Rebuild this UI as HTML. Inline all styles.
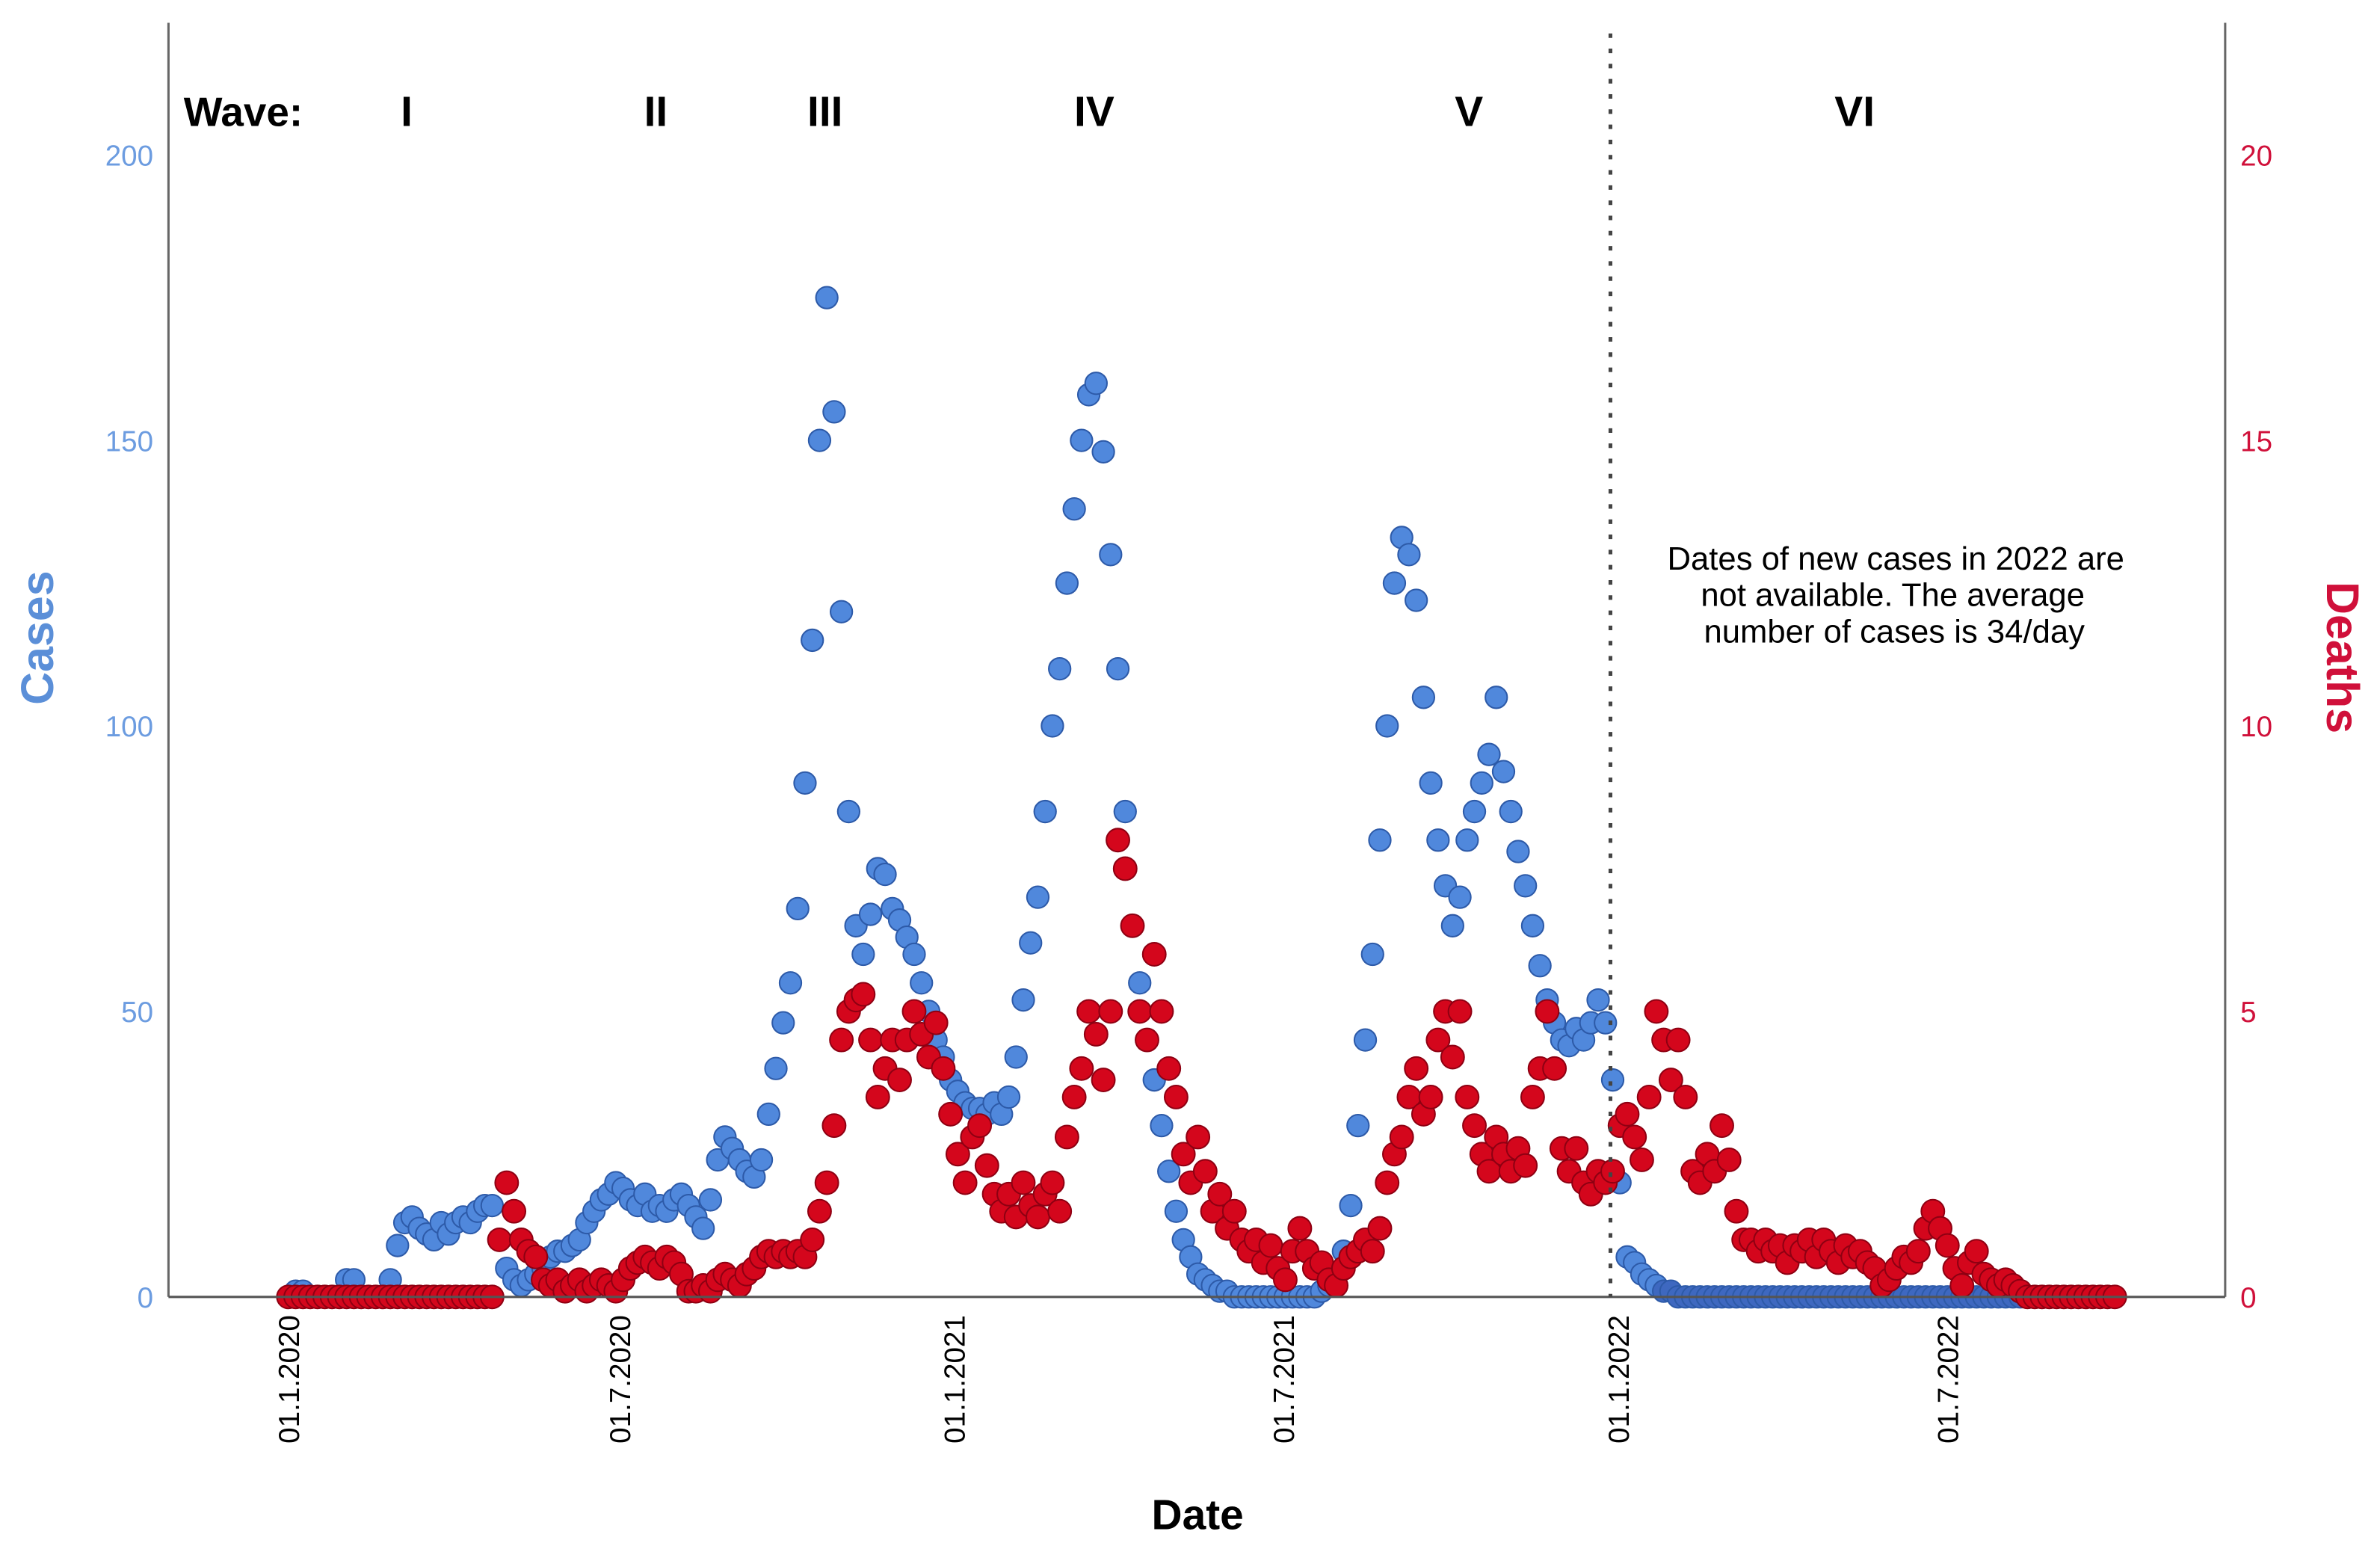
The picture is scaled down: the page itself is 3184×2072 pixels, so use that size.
<!DOCTYPE html>
<html><head><meta charset="utf-8"><style>
html,body{margin:0;padding:0;background:#fff;}
svg{display:block;}
text{font-family:"Liberation Sans",sans-serif;}
</style></head><body>
<svg id="chart" width="3184" height="2072" viewBox="0 0 1568 1020" preserveAspectRatio="none" xmlns="http://www.w3.org/2000/svg">
<rect width="1568" height="1020" fill="#fff"/>
<g id="marks"></g>
<line x1="111" y1="15" x2="111" y2="854" stroke="#666" stroke-width="1.5"/>
<line x1="1466" y1="15" x2="1466" y2="854" stroke="#666" stroke-width="1.5"/>
<line x1="111" y1="854" x2="1466" y2="854" stroke="#555" stroke-width="1.5"/>
<line x1="1061" y1="22" x2="1061" y2="854" stroke="#444" stroke-width="2.5" stroke-dasharray="3,7"/>
<g id="ticks"></g>
<text x="121" y="83" font-size="27" font-weight="bold" fill="#000">Wave:</text>
<g id="waves" font-size="28" font-weight="bold" text-anchor="middle" fill="#000"></g>
<g font-size="21.5" text-anchor="middle" fill="#000">
<text x="1249" y="375">Dates of new cases in 2022 are</text>
<text x="1247" y="399">not available. The average</text>
<text x="1248" y="423">number of cases is 34/day</text>
</g>
<text transform="translate(35,420) rotate(-90)" text-anchor="middle" font-size="30" font-weight="bold" fill="#5b8fd8">Cases</text>
<text transform="translate(1533,433) rotate(90)" text-anchor="middle" font-size="30" font-weight="bold" fill="#d0103a">Deaths</text>
<text x="789" y="1007" text-anchor="middle" font-size="28" font-weight="bold" fill="#000">Date</text>
</svg>
<script>
const xTickLabels = ["01.1.2020","01.7.2020","01.1.2021","01.7.2021","01.1.2022","01.7.2022"];
const xTickDays = [0,182,366,547,731,912];
const casesTicks = [0,50,100,150,200];
const deathsTicks = [0,5,10,15,20];
const waveNames = ["I","II","III","IV","V","VI"];
const waveDays = [65,202,295,443,649,861];
const stepDays = 4;
const cases = [0,1,1,0,0,0,0,0,
3,3,0,
0,0,0,3,
9,13,14,12,11,10,13,11,13,14,13,15,16,16,
10,5,3,2,3,4,5,7,8,8,9,10,13,15,17,18,20,19,17,16,18,15,16,15,17,18,16,14,12,17,
24,28,26,24,22,21,24,32,40,48,55,68,90,115,150,175,155,120,85,65,
60,67,75,74,68,66,63,60,55,50,45,42,38,36,34,33,33,32,34,32,35,42,52,62,
70,85,100,110,125,138,150,158,160,148,130,110,85,65,55,45,38,30,22,15,10,7,4,3,2,1,
1,0,0,0,0,0,0,0,0,0,0,0,0,
1,2,4,8,16,30,45,60,80,100,125,133,130,122,105,90,80,72,65,70,80,85,90,95,105,92,85,78,72,65,58,52,48,45,44,47,45,48,52,48,38,20,7,6,4,3,2,1,1,
0,0,0,0,0,0,0,0,0,0,0,0,0,0,0,0,0,0,0,0,0,0,0,0,0,0,0,0,0,0,0,0,0,0,0,0,0,0,0,0,0,0,0,0,0,0,0,0,0,0,0,0,0,0,0,0,0,0,0,0,0];
const deaths = [0,0,0,0,0,0,0,0,0,0,0,0,0,0,0,0,0,0,0,0,0,0,0,0,0,0,0,0,0,
1,2,1.5,1,0.8,0.7,0.3,0.2,0.3,0.1,0.2,0.3,0.1,0.2,0.3,0.2,0.1,0.3,0.5,0.6,0.7,0.6,0.5,0.7,0.6,0.4,0.1,0.1,0.2,0.1,
0.3,0.4,0.3,0.2,0.4,0.5,0.7,0.8,0.7,0.8,0.7,0.8,0.7,1.0,1.5,2.0,3.0,4.5,5.0,5.2,
5.3,4.5,3.5,4.0,4.5,3.8,4.5,5.0,4.6,4.2,4.8,4.0,3.2,2.5,2.0,2.8,3.0,2.3,1.8,1.5,1.8,1.4,2.0,1.6,
1.4,1.8,2.0,1.5,2.8,3.5,4.0,5.0,4.6,3.8,5.0,8.0,7.5,6.5,5.0,4.5,6.0,5.0,4.0,3.5,2.5,2.0,2.8,2.2,1.5,1.8,
1.2,1.5,1.0,0.8,1.0,0.6,0.9,0.5,0.3,0.8,1.2,0.8,0.5,
0.6,0.3,0.2,0.5,0.7,0.8,1.0,0.8,1.2,2.0,2.5,2.8,3.5,4.0,3.2,3.5,4.5,5.0,4.2,5.0,3.5,3.0,2.5,2.2,2.8,2.5,2.2,2.6,2.3,3.5,4.0,5.0,4.0,2.6,2.2,2.6,2.0,1.8,2.2,2.0,2.2,3.0,3.2,2.8,2.4,3.5,5.0,4.5,3.8,
4.5,3.5,2.2,2.0,2.5,2.2,3.0,2.4,1.5,1.0,1.0,0.8,1.0,0.8,0.9,0.6,0.9,0.8,1.0,0.7,1.0,0.8,0.6,0.9,0.7,0.8,0.6,0.5,0.2,0.3,0.5,0.7,0.6,0.8,1.2,1.5,1.2,0.9,0.5,0.2,0.6,0.8,0.4,0.3,0.2,0.3,0.2,0.1,
0,0,0,0,0,0,0,0,0,0,0,0,0];

const NS = "http://www.w3.org/2000/svg";
const xOf = d => 190 + d * (1093 / 912);
const yCases = v => 854 - v * (752 / 200);
const yDeaths = v => 854 - v * (752 / 20);
const marks = document.getElementById('marks');
const ticks = document.getElementById('ticks');
const waves = document.getElementById('waves');

function dot(cx, cy, r, fill, stroke) {
  const c = document.createElementNS(NS, 'circle');
  c.setAttribute('cx', cx); c.setAttribute('cy', cy); c.setAttribute('r', r);
  c.setAttribute('fill', fill); c.setAttribute('stroke', stroke); c.setAttribute('stroke-width', 1);
  return c;
}
cases.forEach((v, i) => {
  const c = dot(xOf(i * stepDays), yCases(v), 7.2, v <= 1 && i > 180 ? '#3e68c0' : '#5088dc', '#2d5aa8');
  
  
  marks.appendChild(c);
});
deaths.forEach((v, i) => {
  const c = dot(xOf(i * stepDays), yDeaths(v), 7.6, '#d4061c', '#8e0012');
  
  
  marks.appendChild(c);
});
function txt(parent, x, y, s, attrs) {
  const t = document.createElementNS(NS, 'text');
  t.setAttribute('x', x); t.setAttribute('y', y); t.textContent = s;
  for (const k in attrs) t.setAttribute(k, attrs[k]);
  parent.appendChild(t); return t;
}
casesTicks.forEach(v => {
  const t = txt(ticks, 101, yCases(v) + 7, String(v), {'text-anchor': 'end', 'font-size': '19', 'fill': '#6c9ce0'});
  
  
});
deathsTicks.forEach(v => {
  const t = txt(ticks, 1476, yDeaths(v) + 7, String(v), {'text-anchor': 'start', 'font-size': '19', 'fill': '#d0103a'});
  
  
});
xTickLabels.forEach((s, i) => {
  const x = xOf(xTickDays[i]);
  const t = txt(ticks, 0, 0, s, {'text-anchor': 'end', 'font-size': '19', 'fill': '#000', 'transform': `translate(${x + 7},866) rotate(-90)`});
  
  
});
waveNames.forEach((s, i) => {
  const t = txt(waves, xOf(waveDays[i]), 83, s, {});
  
  
});
</script>
</body></html>
